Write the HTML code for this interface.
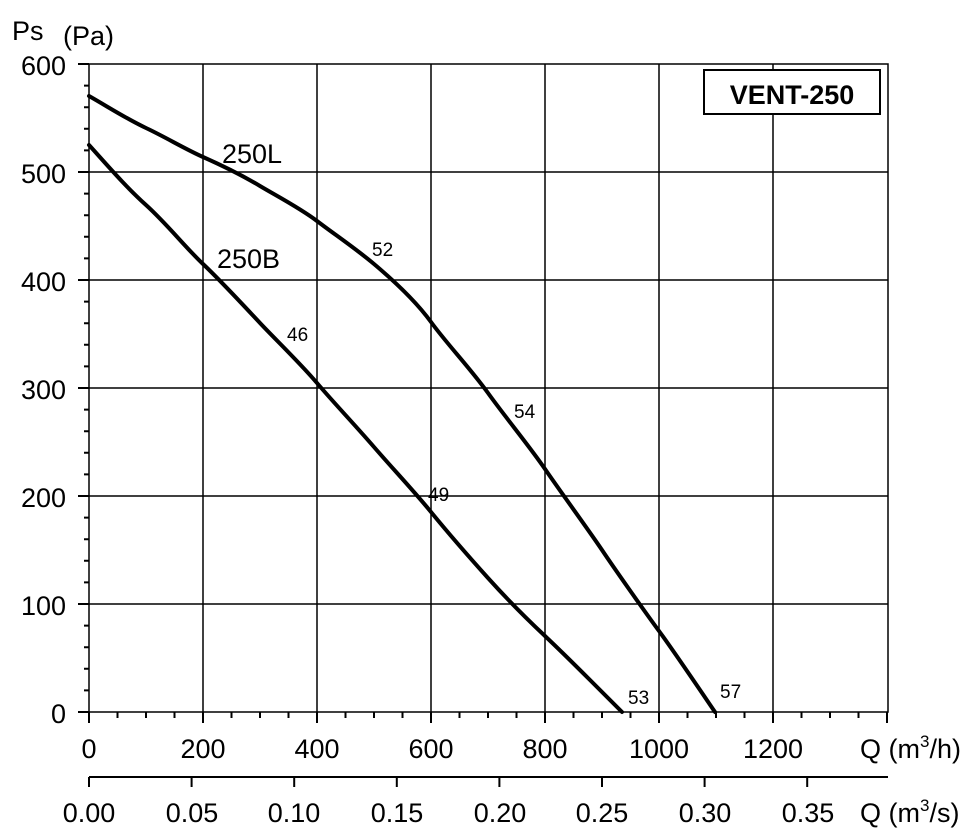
<!DOCTYPE html>
<html><head><meta charset="utf-8"><style>body{margin:0;background:#fff}svg{display:block}text{font-family:"Liberation Sans",Arial,sans-serif;fill:#000}</style></head><body>
<svg width="975" height="831" viewBox="0 0 975 831" xmlns="http://www.w3.org/2000/svg">
<g stroke="#000" stroke-width="1.5" fill="none">
<rect x="89" y="64" width="799" height="648"/>
<line x1="203" y1="64" x2="203" y2="712"/><line x1="317" y1="64" x2="317" y2="712"/><line x1="431" y1="64" x2="431" y2="712"/><line x1="545" y1="64" x2="545" y2="712"/><line x1="659" y1="64" x2="659" y2="712"/><line x1="773" y1="64" x2="773" y2="712"/>
<line x1="89" y1="172" x2="888" y2="172"/><line x1="89" y1="280" x2="888" y2="280"/><line x1="89" y1="388" x2="888" y2="388"/><line x1="89" y1="496" x2="888" y2="496"/><line x1="89" y1="604" x2="888" y2="604"/>
</g>
<path stroke="#000" stroke-width="2" fill="none" d="M78,712H89M84,690.4H89M84,668.8H89M84,647.2H89M84,625.6H89M78,604H89M84,582.4H89M84,560.8H89M84,539.2H89M84,517.6H89M78,496H89M84,474.4H89M84,452.8H89M84,431.2H89M84,409.6H89M78,388H89M84,366.4H89M84,344.8H89M84,323.2H89M84,301.6H89M78,280H89M84,258.4H89M84,236.8H89M84,215.2H89M84,193.6H89M78,172H89M84,150.4H89M84,128.8H89M84,107.2H89M84,85.6H89M78,64H89
M89,712V723M117.5,712V718M146,712V718M174.5,712V718M203,712V723M231.5,712V718M260,712V718M288.5,712V718M317,712V723M345.5,712V718M374,712V718M402.5,712V718M431,712V723M459.5,712V718M488,712V718M516.5,712V718M545,712V723M573.5,712V718M602,712V718M630.5,712V718M659,712V723M687.5,712V718M716,712V718M744.5,712V718M773,712V723M801.5,712V718M830,712V718M858.5,712V718M887,712V723
M89,777V787M191.6,777V787M294.2,777V787M396.8,777V787M499.4,777V787M602,777V787M704.6,777V787M807.2,777V787"/>
<line x1="89" y1="777" x2="888" y2="777" stroke="#000" stroke-width="2"/>
<g stroke="#000" stroke-width="4" fill="none" stroke-linejoin="round" stroke-linecap="round">
<path d="M89,96 C110,108 125,118 146,128 S185,149 203,157 S245,177 260,186 S300,208 317,221 S355,248 374,264 S415,300 431,322 S470,368 488,393 S530,447 545,469 S590,532 602,550 S645,612 659,631 S700,690 715,712"/>
<path d="M89,145 C108,166 125,186 146,205 S185,247 203,264 S245,307 260,323 S300,363 317,383 S355,425 374,447 S413,490 431,512 S470,558 488,578 S528,620 545,636 S578,668 590,680 S610,700 622,712"/>
</g>
<rect x="704" y="70" width="176" height="44" fill="#fff" stroke="#000" stroke-width="2"/>
<text x="792" y="104" font-size="27" font-weight="bold" text-anchor="middle">VENT-250</text>
<g font-size="27">
<text x="12" y="40">Ps</text><text x="63" y="45">(Pa)</text>
<g text-anchor="end"><text x="66" y="75">600</text><text x="66" y="183">500</text><text x="66" y="291">400</text><text x="66" y="399">300</text><text x="66" y="507">200</text><text x="66" y="615">100</text><text x="66" y="723">0</text></g>
<g text-anchor="middle"><text x="89" y="758">0</text><text x="203" y="758">200</text><text x="317" y="758">400</text><text x="431" y="758">600</text><text x="545" y="758">800</text><text x="659" y="758">1000</text><text x="773" y="758">1200</text>
<text x="89" y="822">0.00</text><text x="192" y="822">0.05</text><text x="294" y="822">0.10</text><text x="397" y="822">0.15</text><text x="500" y="822">0.20</text><text x="602" y="822">0.25</text><text x="705" y="822">0.30</text><text x="808" y="822">0.35</text></g>
<text x="860" y="758">Q (m<tspan font-size="17" dy="-11">3</tspan><tspan dy="11">/h)</tspan></text>
<text x="860" y="822">Q (m<tspan font-size="17" dy="-11">3</tspan><tspan dy="11">/s)</tspan></text>
<text x="222" y="163">250L</text><text x="217" y="268">250B</text>
</g>
<g font-size="19"><text x="372" y="256">52</text><text x="287" y="341">46</text><text x="514" y="418">54</text><text x="428" y="501">49</text><text x="628" y="704">53</text><text x="720" y="698">57</text></g>
</svg>
</body></html>
